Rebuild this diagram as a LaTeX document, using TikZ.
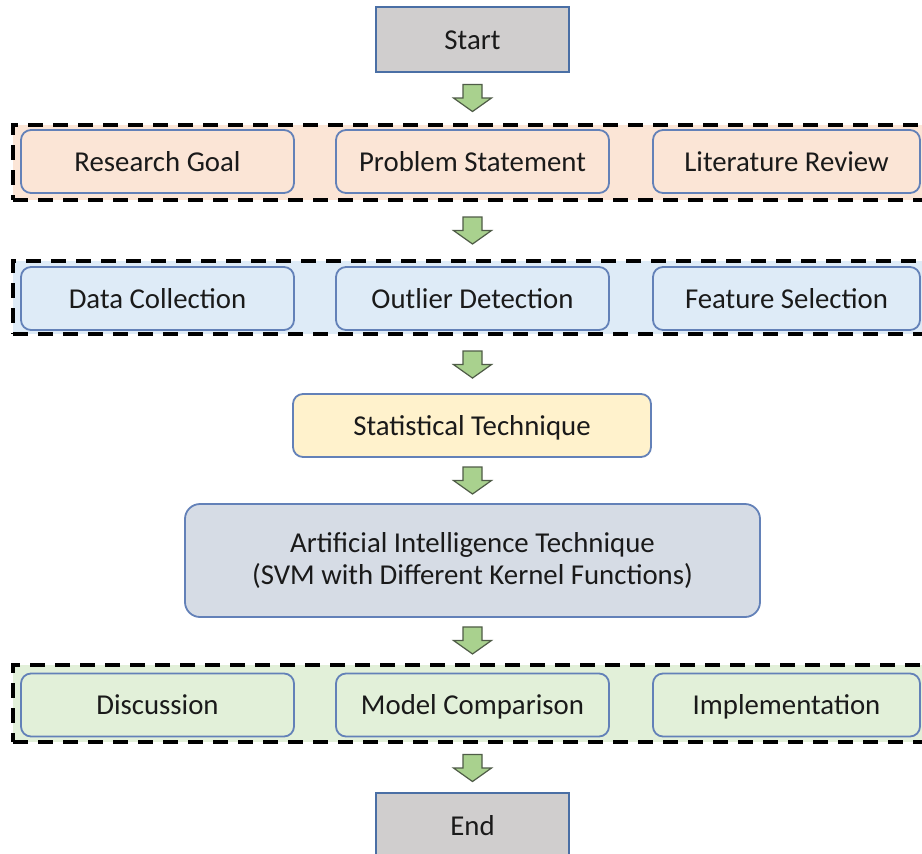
\documentclass[tikz,border=0pt]{standalone}
\usepackage{fontspec}
\setmainfont{Carlito}
\usetikzlibrary{calc}
\definecolor{boxline}{HTML}{6381B8}
\definecolor{termline}{HTML}{4A6FA5}
\definecolor{termfill}{HTML}{D0CECE}
\definecolor{peach}{HTML}{FBE5D6}
\definecolor{lblue}{HTML}{DEEBF7}
\definecolor{lyellow}{HTML}{FFF2CC}
\definecolor{lslate}{HTML}{D6DCE5}
\definecolor{lgreen}{HTML}{E2F0D9}
\definecolor{arrfill}{HTML}{A9D18E}
\definecolor{arrline}{HTML}{4F5C47}
\definecolor{txt}{HTML}{1A1A1A}
\tikzset{
  x=0.5pt, y=-0.5pt,
  every node/.style={font=\fontsize{14.4}{16}\selectfont, text=txt, inner sep=0pt},
  oneline/.style={text height=12.6pt, text depth=2.8pt},
  termbox/.style={oneline, draw=termline, line width=1pt, fill=termfill, minimum width=96.5pt, minimum height=32.5pt},
  stepbox/.style={draw=boxline, line width=0.9pt, rounded corners=5pt, minimum height=31.5pt},
  rowbox/.style={stepbox, oneline},
  groupbox/.style={draw=black, line width=2pt, dash pattern=on 7.5pt off 5pt, minimum width=470pt},
  blockarr/.style={draw=arrline, line width=0.6pt, fill=arrfill, line join=miter}
}
\newcommand{\blockarrow}[1]{%
  \draw[blockarr] ([shift={(-9.5,-13.5)}]#1) -- ([shift={(9.5,-13.5)}]#1) -- ([shift={(9.5,0)}]#1) -- ([shift={(19,0)}]#1) -- ([shift={(0,13.5)}]#1) -- ([shift={(-19,0)}]#1) -- ([shift={(-9.5,0)}]#1) -- cycle;}
\begin{document}
\begin{tikzpicture}
\useasboundingbox[fill=white] (0,0) rectangle (922,853);
% start
\node[termbox] (start) at (472.5,39.5) {Start};
% group 1
\node[groupbox, fill=peach, minimum height=37.5pt] (g1) at (483,162.5) {};
\node[rowbox, fill=peach, minimum width=136.5pt] (rg) at (157.5,161.5) {Research Goal};
\node[rowbox, fill=peach, minimum width=136.5pt] (ps) at (472.5,161.5) {Problem Statement};
\node[rowbox, fill=peach, minimum width=133.5pt] (lr) at (786.5,161.5) {Literature Review};
% group 2
\node[groupbox, fill=lblue, minimum height=36.5pt] (g2) at (483,297.5) {};
\node[rowbox, fill=lblue, minimum width=136.5pt] (dc) at (157.5,298.5) {Data Collection};
\node[rowbox, fill=lblue, minimum width=136.5pt] (od) at (472.5,298.5) {Outlier Detection};
\node[rowbox, fill=lblue, minimum width=133.5pt] (fs) at (786.5,298.5) {Feature Selection};
% statistical
\node[rowbox, fill=lyellow, minimum width=179pt] (st) at (472,425.5) {Statistical Technique};
% AI
\node[stepbox, fill=lslate, rounded corners=7.5pt, minimum width=287.5pt, minimum height=56.5pt, align=center] (ai) at (472.5,560.5) {\raisebox{-1pt}{Artificial Intelligence Technique}\\\raisebox{-1pt}{(SVM with Different Kernel Functions)}};
% group 3
\node[groupbox, fill=lgreen, minimum height=38.5pt] (g3) at (483,703.5) {};
\node[rowbox, fill=lgreen, minimum width=136.5pt] (di) at (157.5,705) {Discussion};
\node[rowbox, fill=lgreen, minimum width=136.5pt] (mc) at (472.5,705) {Model Comparison};
\node[rowbox, fill=lgreen, minimum width=133.5pt] (im) at (786.5,705) {Implementation};
% end
\node[termbox] (end) at (472.5,825.5) {End};
% arrows (centred on the main column)
\coordinate (a1) at ($(start.south)!0.5!(g1.north -| start)$);
\coordinate (a2) at ($(g1.south -| start)!0.5!(g2.north -| start)$);
\coordinate (a3) at ($(g2.south -| start)!0.5!(st.north -| start)$);
\coordinate (a4) at ($(st.south -| start)!0.5!(ai.north -| start)$);
\coordinate (a5) at ($(ai.south -| start)!0.5!(g3.north -| start)$);
\coordinate (a6) at ($(g3.south -| start)!0.5!(end.north)$);
\blockarrow{a1}
\blockarrow{a2}
\blockarrow{a3}
\blockarrow{a4}
\blockarrow{a5}
\blockarrow{a6}
\end{tikzpicture}
\end{document}
